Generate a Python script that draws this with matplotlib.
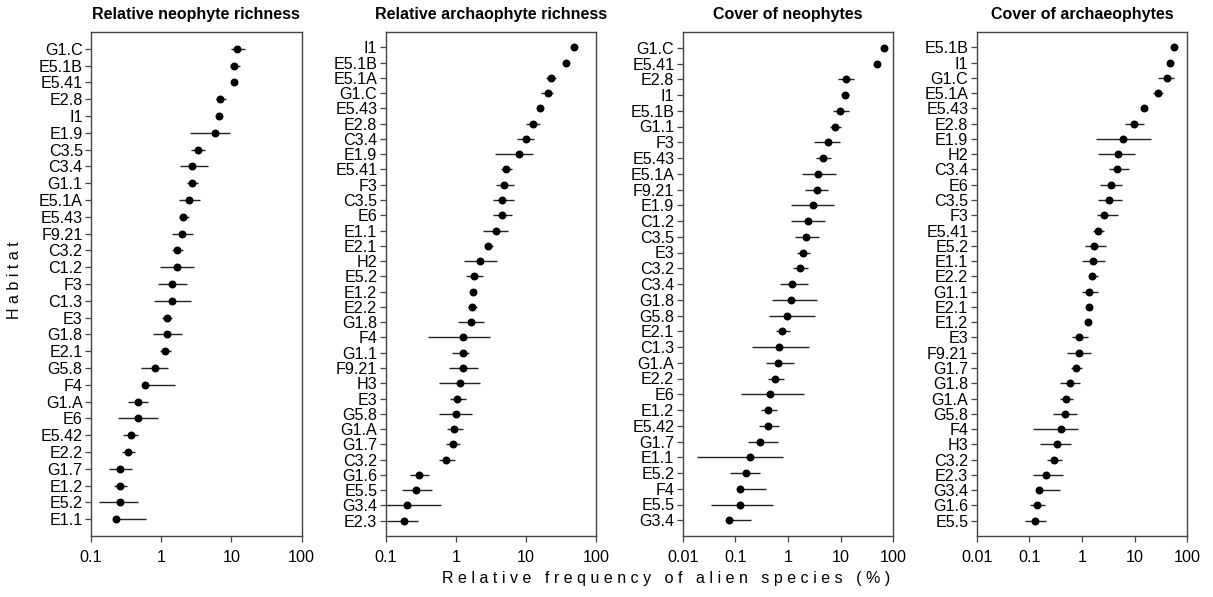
import matplotlib
matplotlib.use("Agg")
import matplotlib.pyplot as plt
from matplotlib.ticker import FixedLocator, NullLocator

plt.rcParams['font.family'] = ['Liberation Sans', 'DejaVu Sans']

titles = ["Relative neophyte richness", "Relative archaophyte richness",
          "Cover of neophytes", "Cover of archaeophytes"]

labels1 = ["G1.C","E5.1B","E5.41","E2.8","I1","E1.9","C3.5","C3.4","G1.1","E5.1A","E5.43","F9.21","C3.2","C1.2","F3","C1.3","E3","G1.8","E2.1","G5.8","F4","G1.A","E6","E5.42","E2.2","G1.7","E1.2","E5.2","E1.1"]
val1 = [12.0,11.0,10.9,7.0,6.75,5.86,3.36,2.79,2.76,2.47,2.05,2.01,1.67,1.67,1.45,1.43,1.22,1.20,1.14,0.83,0.59,0.46,0.46,0.37,0.34,0.26,0.26,0.26,0.23]
lo1 = [9.8,9.5,10.3,6.0,6.3,2.58,2.67,1.84,2.34,1.80,1.78,1.43,1.43,0.97,0.90,0.79,1.04,0.77,0.97,0.52,0.57,0.34,0.24,0.29,0.28,0.18,0.21,0.13,0.23]
hi1 = [15.8,13.1,11.5,8.5,7.2,9.68,4.27,4.61,3.40,3.55,2.53,2.82,2.03,2.98,2.37,2.70,1.45,1.99,1.39,1.26,1.60,0.64,0.89,0.46,0.43,0.38,0.33,0.46,0.60]

labels2 = ["I1","E5.1B","E5.1A","G1.C","E5.43","E2.8","C3.4","E1.9","E5.41","F3","C3.5","E6","E1.1","E2.1","H2","E5.2","E1.2","E2.2","G1.8","F4","G1.1","F9.21","H3","E3","G5.8","G1.A","G1.7","C3.2","G1.6","E5.5","G3.4","E2.3"]
val2 = [47.5,37.4,22.6,20.5,15.6,12.4,9.93,7.98,5.15,4.88,4.61,4.52,3.71,2.91,2.24,1.82,1.74,1.71,1.63,1.27,1.27,1.27,1.16,1.05,1.00,0.94,0.90,0.73,0.30,0.27,0.20,0.18]
lo2 = [46,36.5,19.4,16.6,14.3,10.0,7.4,3.63,4.47,3.79,3.40,3.40,2.47,2.56,1.32,1.40,1.60,1.48,1.08,0.40,0.87,0.80,0.58,0.82,0.58,0.74,0.73,0.57,0.22,0.17,0.10,0.106]
hi2 = [49,38.5,26.9,24.6,17.4,15.9,13.2,12.4,6.27,6.70,6.70,6.34,5.50,3.40,3.83,2.45,1.90,1.99,2.50,3.08,1.56,2.05,2.19,1.40,1.72,1.25,1.16,0.98,0.42,0.45,0.61,0.29]

labels3 = ["G1.C","E5.41","E2.8","I1","E5.1B","G1.1","F3","E5.43","E5.1A","F9.21","E1.9","C1.2","C3.5","E3","C3.2","C3.4","G1.8","G5.8","E2.1","C1.3","G1.A","E2.2","E6","E1.2","E5.42","G1.7","E1.1","E5.2","F4","E5.5","G3.4"]
val3 = [66.4,50.3,12.7,12.0,9.78,7.86,5.70,4.71,3.73,3.52,2.95,2.37,2.20,1.90,1.67,1.21,1.14,0.97,0.76,0.69,0.66,0.56,0.46,0.42,0.42,0.30,0.19,0.158,0.122,0.122,0.075]
lo3 = [65,49,8.8,10.5,7.3,6.4,3.18,3.47,1.82,2.14,1.16,1.14,1.38,1.46,1.23,0.71,0.50,0.43,0.59,0.21,0.39,0.42,0.13,0.31,0.28,0.175,0.0185,0.080,0.120,0.034,0.074]
hi3 = [68,51.5,18.1,14.5,14.7,10.2,9.78,6.59,8.21,5.78,7.41,5.14,3.89,2.62,2.40,2.37,3.56,3.27,1.11,2.48,1.32,0.84,1.99,0.62,0.69,0.66,0.81,0.30,0.39,0.52,0.195]

labels4 = ["E5.1B","I1","G1.C","E5.1A","E5.43","E2.8","E1.9","H2","C3.4","E6","C3.5","F3","E5.41","E5.2","E1.1","E2.2","G1.1","E2.1","E1.2","E3","F9.21","G1.7","G1.8","G1.A","G5.8","F4","H3","C3.2","E2.3","G3.4","G1.6","E5.5"]
val4 = [55.8,46.2,41.1,27.3,15.0,9.86,6.09,4.75,4.62,3.50,3.21,2.62,2.01,1.69,1.62,1.53,1.38,1.36,1.28,0.89,0.88,0.77,0.58,0.50,0.47,0.40,0.335,0.29,0.21,0.15,0.14,0.13]
lo4 = [54,45,27.7,22.6,13.2,6.65,1.82,2.04,3.26,2.20,2.01,1.93,1.64,1.16,1.01,1.34,1.0,1.28,1.2,0.64,0.53,0.62,0.39,0.39,0.28,0.12,0.16,0.22,0.12,0.149,0.104,0.083]
hi4 = [57.5,47.5,55.8,35.0,16.9,15.0,20.1,10.0,7.92,5.66,5.66,4.75,2.58,2.81,2.73,1.98,2.01,1.45,1.36,1.28,1.48,0.99,0.92,0.67,0.79,0.83,0.61,0.42,0.44,0.39,0.20,0.21]

xticks12 = [0.1, 1, 10, 100]
xticks34 = [0.01, 0.1, 1, 10, 100]

panels = [
    (labels1, val1, lo1, hi1, xticks12),
    (labels2, val2, lo2, hi2, xticks12),
    (labels3, val3, lo3, hi3, xticks34),
    (labels4, val4, lo4, hi4, xticks34),
]

W, H = 1213, 597
fig = plt.figure(figsize=(W / 100, H / 100), dpi=100)
lefts = [91, 385.7, 682.7, 976.7]
width = 210.5
top, bottom = 32, 536

frame_col = "#444444"
for i, (labs, v, lo, hi, xt) in enumerate(panels):
    ax = fig.add_axes([lefts[i] / W, (H - bottom) / H, width / W, (bottom - top) / H])
    n = len(labs)
    y = list(range(n, 0, -1))
    xerr = [[a - b for a, b in zip(v, lo)], [c - a for a, c in zip(v, hi)]]
    ax.errorbar(v, y, xerr=xerr, fmt='o', color='black', ms=4.7,
                ecolor='#222222', elinewidth=1.0, capsize=0)
    ax.set_xscale('log')
    ax.set_xlim(xt[0], xt[-1])
    ax.set_ylim(0, n + 1)
    ax.set_yticks(y)
    ax.set_yticklabels(labs, fontsize=11.6)
    ax.xaxis.set_major_locator(FixedLocator(xt))
    ax.xaxis.set_minor_locator(NullLocator())
    ax.set_xticklabels(["%g" % t for t in xt], fontsize=11.6)
    ax.tick_params(axis='both', direction='out', length=4, width=0.9,
                   color=frame_col, pad=2)
    ax.tick_params(axis='x', pad=6)
    for s in ax.spines.values():
        s.set_color(frame_col)
        s.set_linewidth(1.0)
    ax.set_title(titles[i], fontsize=11.5, fontweight='bold', pad=9)

def spaced(s):
    return "   ".join(" ".join(w) for w in s.split(" "))

fig.text(666 / W, 1 - 578 / H, spaced("Relative frequency of alien species (%)"),
         ha='center', va='center', fontsize=11.5)
fig.text(15 / W, 1 - 280 / H, spaced("Habitat"), rotation=90,
         ha='center', va='center', fontsize=11.5)

fig.savefig("out.png", dpi=100)
